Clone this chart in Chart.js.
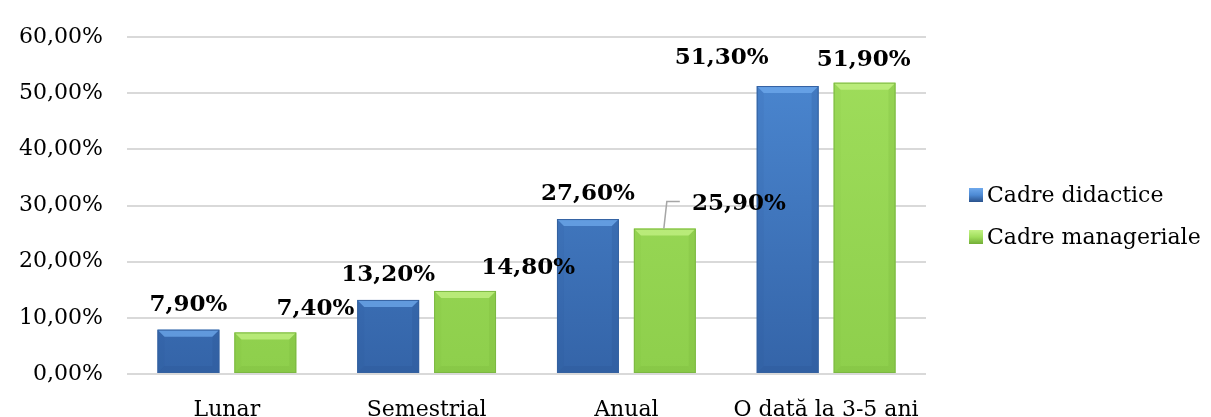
<!DOCTYPE html>
<html>
<head>
<meta charset="utf-8">
<script src="https://cdn.jsdelivr.net/npm/chart.js@4"></script>
<style>
  html, body { margin: 0; padding: 0; background: #ffffff; }
  #wrap { width: 1211px; height: 417px; position: relative; }
</style>
</head>
<body>
<div id="wrap"><canvas id="freqChart"></canvas></div>
<script>
// Date - frecventa (procente)
const categories = ['Lunar', 'Semestrial', 'Anual', 'O dată la 3-5 ani'];
const seriesNames = ['Cadre didactice', 'Cadre manageriale'];
const didactice = [7.9, 13.2, 27.6, 51.3];
const manageriale = [7.4, 14.8, 25.9, 51.9];
const yTicks = [0, 10, 20, 30, 40, 50, 60];

// deplasarea etichetelor (px) fata de varful barei
const labelShift = [
    [[0, -25], [0, -25], [0, -25], [-66, -28]],
    [[50, -23], [63, -23], [74, -25], [-1, -23]]
];

const FONT = "'DejaVu Serif', Georgia, serif";
const palette = [
    { top: '#4d8ad4', bottom: '#3464a8', light: '#6fa9ec', dark: '#2a528c', edge: '#3461a0' },
    { top: '#a0de5c', bottom: '#8ecf4c', light: '#c4f286', dark: '#72ad36', edge: '#7cb842' }
];

function fmt(v) {
    return v.toFixed(2).replace('.', ',') + '%';
}

function gradientFor(ctx, i) {
    const chart = ctx.chart;
    const area = chart.chartArea;
    if (!area) return palette[i].top;
    const g = chart.ctx.createLinearGradient(0, area.top, 0, area.bottom);
    g.addColorStop(0, palette[i].top);
    g.addColorStop(1, palette[i].bottom);
    return g;
}

// efect de relief pe bare
const bevelPlugin = {
    id: 'bevel',
    afterDatasetsDraw(chart) {
        const c = chart.ctx;
        chart.data.datasets.forEach((ds, di) => {
            const meta = chart.getDatasetMeta(di);
            const p = palette[di];
            meta.data.forEach(bar => {
                const l = bar.x - bar.width / 2, r = bar.x + bar.width / 2;
                const t = bar.y, b = bar.base;
                const s = Math.min(7, (b - t) / 3);
                c.save();
                c.fillStyle = p.light;
                c.globalAlpha = 0.75;
                c.beginPath();
                c.moveTo(l, t); c.lineTo(r, t); c.lineTo(r - s, t + s); c.lineTo(l + s, t + s);
                c.closePath(); c.fill();
                c.globalAlpha = 0.2;
                c.fillStyle = p.dark;
                c.beginPath();
                c.moveTo(r, t); c.lineTo(r, b); c.lineTo(r - s, b - s); c.lineTo(r - s, t + s);
                c.closePath(); c.fill();
                c.beginPath();
                c.moveTo(l, b); c.lineTo(r, b); c.lineTo(r - s, b - s); c.lineTo(l + s, b - s);
                c.closePath(); c.fill();
                c.globalAlpha = 0.08;
                c.beginPath();
                c.moveTo(l, t); c.lineTo(l, b); c.lineTo(l + s, b - s); c.lineTo(l + s, t + s);
                c.closePath(); c.fill();
                c.globalAlpha = 1;
                c.strokeStyle = p.edge;
                c.lineWidth = 1;
                c.strokeRect(l + 0.5, t + 0.5, r - l - 1, b - t - 1);
                c.restore();
            });
        });
    }
};

// etichete cu valori
const valueLabels = {
    id: 'valueLabels',
    afterDatasetsDraw(chart) {
        const c = chart.ctx;
        c.save();
        c.font = "bold 23px " + FONT;
        c.fillStyle = '#000';
        c.textAlign = 'center';
        c.textBaseline = 'middle';
        chart.data.datasets.forEach((ds, di) => {
            const meta = chart.getDatasetMeta(di);
            meta.data.forEach((bar, i) => {
                const sh = labelShift[di][i];
                const x = bar.x + sh[0], y = bar.y + sh[1];
                c.fillText(fmt(ds.data[i]), x, y);
                // linie de legatura pentru eticheta mutata departe
                if (di === 1 && i === 2) {
                    c.strokeStyle = '#a6a6a6';
                    c.lineWidth = 1.5;
                    c.beginPath();
                    c.moveTo(bar.x - 1, bar.y);
                    c.lineTo(bar.x + 2, y - 2);
                    c.lineTo(bar.x + 15, y - 2);
                    c.stroke();
                }
            });
        });
        c.restore();
    }
};

// legenda din dreapta
const sideLegend = {
    id: 'sideLegend',
    afterDraw(chart) {
        const c = chart.ctx;
        const x0 = chart.chartArea.right + 43;
        const ys = [195, 237];
        c.save();
        c.font = "22px " + FONT;
        c.textBaseline = 'middle';
        c.textAlign = 'left';
        chart.data.datasets.forEach((ds, di) => {
            const p = palette[di];
            const y = ys[di];
            const g = c.createLinearGradient(0, y - 7, 0, y + 7);
            g.addColorStop(0, p.light);
            g.addColorStop(0.5, p.top);
            g.addColorStop(1, p.dark);
            c.fillStyle = g;
            c.fillRect(x0, y - 7, 14, 14);
            c.fillStyle = '#000';
            c.fillText(ds.label, x0 + 18, y + 1);
        });
        c.restore();
    }
};

function initChart() {
    const ctx = document.getElementById('freqChart').getContext('2d');

    new Chart(ctx, {
        type: 'bar',
        data: {
            labels: categories,
            datasets: [
                {
                    label: seriesNames[0],
                    data: didactice,
                    backgroundColor: c => gradientFor(c, 0),
                    borderWidth: 0
                },
                {
                    label: seriesNames[1],
                    data: manageriale,
                    backgroundColor: c => gradientFor(c, 1),
                    borderWidth: 0
                }
            ]
        },
        options: {
            responsive: true,
            maintainAspectRatio: false,
            animation: false,
            layout: {
                padding: { left: 8, right: 285, top: 26, bottom: 0 }
            },
            datasets: {
                bar: { categoryPercentage: 0.77, barPercentage: 0.805 }
            },
            plugins: {
                legend: { display: false },
                tooltip: { enabled: false }
            },
            scales: {
                x: {
                    grid: { display: false },
                    border: { display: false },
                    ticks: {
                        color: '#000',
                        padding: 15,
                        font: { family: FONT, size: 22 }
                    },
                    afterFit: function(scale) { scale.height = 43; }
                },
                y: {
                    min: 0,
                    max: 60,
                    afterBuildTicks: function(scale) {
                        scale.ticks = yTicks.map(v => ({ value: v }));
                    },
                    grid: { color: '#d9d9d9', lineWidth: 2, drawTicks: false },
                    border: { display: false },
                    ticks: {
                        color: '#000',
                        padding: 24,
                        font: { family: FONT, size: 22 },
                        callback: function(value) { return fmt(value); }
                    },
                    afterFit: function(scale) { scale.width = 119; }
                }
            }
        },
        plugins: [bevelPlugin, valueLabels, sideLegend]
    });
}

document.addEventListener('DOMContentLoaded', initChart);
</script>
</body>
</html>
